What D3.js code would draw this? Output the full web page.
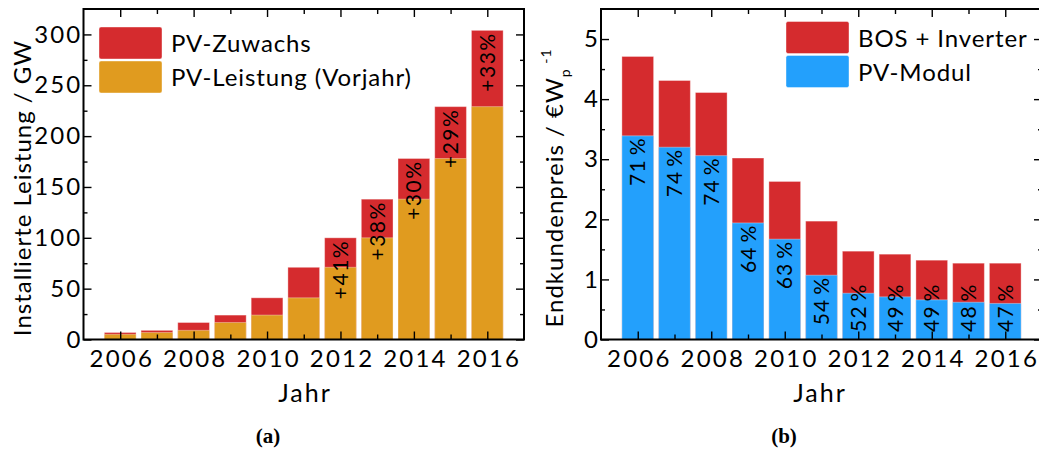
<!DOCTYPE html>
<html>
<head>
<meta charset="utf-8">
<script src="https://cdn.jsdelivr.net/npm/d3@7"></script>
<style>
  body { margin: 0; background: white; }
  text { font-family: Lato, "Open Sans", sans-serif; fill: black; }
  text.caption { font-family: "Liberation Serif", "DejaVu Serif", serif; font-weight: bold; }
</style>
</head>
<body>
<svg width="1039" height="451"></svg>
<script>
// --- data (a): installierte Leistung weltweit in GW
var jahre = [2006, 2007, 2008, 2009, 2010, 2011, 2012, 2013, 2014, 2015, 2016];
var leistungVorjahr = [5.1, 6.9, 9.0, 16.7, 24, 41, 71, 100, 138, 178, 229];
var leistungGesamt  = [6.9, 9.0, 16.7, 24, 41, 71, 100, 138, 178, 229, 304];
var zuwachsJahre = [2012, 2013, 2014, 2015, 2016];
var zuwachsText  = ["+41%", "+38%", "+30%", "+29%", "+33%"];

// --- data (b): Endkundenpreis in EUR/Wp
var preisGesamt = [4.71, 4.31, 4.11, 3.02, 2.63, 1.97, 1.47, 1.42, 1.32, 1.27, 1.27];
var preisModul  = [3.39, 3.20, 3.06, 1.94, 1.67, 1.07, 0.77, 0.71, 0.66, 0.62, 0.60];
var modulAnteil = ["71\u2009%", "74\u2009%", "74\u2009%", "64\u2009%", "63\u2009%", "54\u2009%",
                   "52\u2009%", "49\u2009%", "49\u2009%", "48\u2009%", "47\u2009%"];

var yTicksA = [0, 50, 100, 150, 200, 250, 300];
var yMinorA = [25, 75, 125, 175, 225, 275];
var yTicksB = [0, 1, 2, 3, 4, 5];
var yMinorB = [0.5, 1.5, 2.5, 3.5, 4.5];
var xTicks = [2006, 2008, 2010, 2012, 2014, 2016];
var xMinor = [2007, 2009, 2011, 2013, 2015];

var rot = "#d52b2e", orange = "#e09b1f", blau = "#23a0fc";
var svg = d3.select("svg");

function frame(x, y, yTicks, yMinor, yFmt) {
  var g = svg.append("g");
  // ticks inward on all four sides
  g.append("g").attr("transform", "translate(0," + y.range()[0] + ")")
    .call(d3.axisBottom(x).tickValues(xTicks).tickSize(-8).tickPadding(10).tickFormat(d3.format("d")))
    .call(a => a.selectAll("text").attr("font-size", 24)
      .attr("letter-spacing", 2.2).attr("dx", 1.1));
  g.append("g").attr("transform", "translate(0," + y.range()[0] + ")")
    .call(d3.axisBottom(x).tickValues(xMinor).tickSize(-5).tickFormat(""));
  g.append("g").attr("transform", "translate(0," + y.range()[1] + ")")
    .call(d3.axisTop(x).tickValues(xTicks).tickSize(-8).tickFormat(""));
  g.append("g").attr("transform", "translate(0," + y.range()[1] + ")")
    .call(d3.axisTop(x).tickValues(xMinor).tickSize(-5).tickFormat(""));
  g.append("g").attr("transform", "translate(" + x.range()[0] + ",0)")
    .call(d3.axisLeft(y).tickValues(yTicks).tickSize(-8).tickPadding(1).tickFormat(yFmt))
    .call(a => a.selectAll("text").attr("font-size", 24).attr("letter-spacing", 2.2));
  g.append("g").attr("transform", "translate(" + x.range()[0] + ",0)")
    .call(d3.axisLeft(y).tickValues(yMinor).tickSize(-4).tickFormat(""));
  g.append("g").attr("transform", "translate(" + x.range()[1] + ",0)")
    .call(d3.axisRight(y).tickValues(yTicks).tickSize(-8).tickFormat(""));
  g.append("g").attr("transform", "translate(" + x.range()[1] + ",0)")
    .call(d3.axisRight(y).tickValues(yMinor).tickSize(-4).tickFormat(""));
  g.selectAll(".domain").remove();
  g.selectAll(".tick line").attr("stroke-width", 1.4);
  g.append("rect")
    .attr("x", x.range()[0]).attr("y", y.range()[1])
    .attr("width", x.range()[1] - x.range()[0])
    .attr("height", y.range()[0] - y.range()[1])
    .attr("fill", "none").attr("stroke", "black").attr("stroke-width", 2);
  return g;
}

function legend(x, y, items) {
  items.forEach(function(it, i) {
    svg.append("rect")
      .attr("x", x).attr("y", y + i * 34).attr("width", 63).attr("height", 32)
      .attr("rx", 2).attr("fill", it[1])
      .attr("stroke", "white").attr("stroke-opacity", 0.4).attr("stroke-width", 1);
    svg.append("text")
      .attr("x", x + 72).attr("y", y + i * 34 + 25)
      .attr("font-size", 24)
      .attr("letter-spacing", 0.9)
      .text(it[0]);
  });
}

// ---------- (a) ----------
var xa = d3.scaleLinear().domain([2005, 2017]).range([83.5, 524]);
var ya = d3.scaleLinear().domain([0, 325]).range([339.5, 9]);
var bw = 31.7;

var barsA = svg.append("g");
barsA.selectAll(".gesamt").data(jahre).enter().append("rect")
  .attr("x", (d) => xa(d) - bw / 2)
  .attr("y", (d, i) => ya(leistungGesamt[i]))
  .attr("width", bw)
  .attr("height", (d, i) => ya(0) - ya(leistungGesamt[i]))
  .attr("fill", rot).attr("stroke", "white").attr("stroke-opacity", 0.35);
barsA.selectAll(".vorjahr").data(jahre).enter().append("rect")
  .attr("x", (d) => xa(d) - bw / 2)
  .attr("y", (d, i) => ya(leistungVorjahr[i]))
  .attr("width", bw)
  .attr("height", (d, i) => ya(0) - ya(leistungVorjahr[i]))
  .attr("fill", orange).attr("stroke", "white").attr("stroke-opacity", 0.35);

frame(xa, ya, yTicksA, yMinorA, d3.format("d"));

svg.append("g").selectAll("text").data(zuwachsJahre).enter().append("text")
  .attr("transform", (d, i) => "translate(" + xa(d) + "," + (ya(leistungGesamt[jahre.indexOf(d)]) + 2) + ")rotate(-90)")
  .attr("text-anchor", "end")
  .attr("dy", "0.36em")
  .attr("font-size", 21)
  .attr("letter-spacing", 1.5)
  .text((d, i) => zuwachsText[i]);

legend(99, 27, [["PV-Zuwachs", rot], ["PV-Leistung (Vorjahr)", orange]]);

svg.append("text")
  .attr("transform", "translate(31,188)rotate(-90)")
  .attr("text-anchor", "middle")
  .attr("font-size", 24)
  .attr("letter-spacing", 1)
  .text("Installierte Leistung / GW");
svg.append("text")
  .attr("x", 305).attr("y", 402)
  .attr("text-anchor", "middle")
  .attr("font-size", 25)
  .attr("letter-spacing", 2)
  .text("Jahr");
svg.append("text").attr("class", "caption")
  .attr("x", 268).attr("y", 443).attr("text-anchor", "middle")
  .attr("font-size", 21)
  .text("(a)");

// ---------- (b) ----------
var xb = d3.scaleLinear().domain([2005, 2017]).range([601, 1042]);
var yb = d3.scaleLinear().domain([0, 5.5]).range([339.5, 9]);

var barsB = svg.append("g");
barsB.selectAll(".gesamt").data(jahre).enter().append("rect")
  .attr("x", (d) => xb(d) - bw / 2)
  .attr("y", (d, i) => yb(preisGesamt[i]))
  .attr("width", bw)
  .attr("height", (d, i) => yb(0) - yb(preisGesamt[i]))
  .attr("fill", rot).attr("stroke", "white").attr("stroke-opacity", 0.35);
barsB.selectAll(".modul").data(jahre).enter().append("rect")
  .attr("x", (d) => xb(d) - bw / 2)
  .attr("y", (d, i) => yb(preisModul[i]))
  .attr("width", bw)
  .attr("height", (d, i) => yb(0) - yb(preisModul[i]))
  .attr("fill", blau).attr("stroke", "white").attr("stroke-opacity", 0.35);

frame(xb, yb, yTicksB, yMinorB, d3.format("d"));

// share labels sit just below the module top, but not lower than the bottom row
svg.append("g").selectAll("text").data(jahre).enter().append("text")
  .attr("transform", (d, i) => "translate(" + xb(d) + "," + yb(Math.max(preisModul[i] - 0.43, 0.53)) + ")rotate(-90)")
  .attr("text-anchor", "middle")
  .attr("dy", "0.36em")
  .attr("font-size", 21)
  .attr("letter-spacing", 1.2)
  .text((d, i) => modulAnteil[i]);

legend(786, 21.5, [["BOS + Inverter", rot], ["PV-Modul", blau]]);

var lab = svg.append("text")
  .attr("transform", "translate(563,188)rotate(-90)")
  .attr("text-anchor", "middle")
  .attr("font-size", 24)
  .attr("letter-spacing", 1);
lab.append("tspan").text("Endkundenpreis / \u20acW");
lab.append("tspan").attr("font-size", 14).attr("dy", 7).text("p");
lab.append("tspan").attr("font-size", 14).attr("dy", -19).text(" -1");

svg.append("text")
  .attr("x", 820).attr("y", 402)
  .attr("text-anchor", "middle")
  .attr("font-size", 25)
  .attr("letter-spacing", 2)
  .text("Jahr");
svg.append("text").attr("class", "caption")
  .attr("x", 784).attr("y", 443).attr("text-anchor", "middle")
  .attr("font-size", 21)
  .text("(b)");
</script>
</body>
</html>
